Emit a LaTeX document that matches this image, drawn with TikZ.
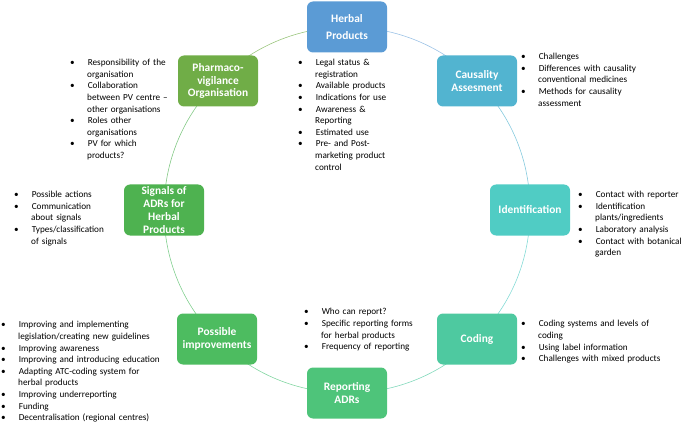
\documentclass[tikz,border=0pt]{standalone}
\usepackage{fontspec}
\setmainfont{Carlito}
\usepackage{xcolor}
\usepackage{enumitem}
\usepackage{tikz}
\usetikzlibrary{backgrounds}
\definecolor{herbal-blue}{RGB}{91,155,213}
\definecolor{causality-blue}{RGB}{82,180,208}
\definecolor{ident-teal}{RGB}{80,204,196}
\definecolor{coding-teal}{RGB}{78,201,160}
\definecolor{reporting-green}{RGB}{78,196,122}
\definecolor{improve-green}{RGB}{77,188,96}
\definecolor{signals-green}{RGB}{78,178,80}
\definecolor{pharma-green}{RGB}{112,173,71}
\setlist[itemize]{label=\textbullet, leftmargin=17pt, labelwidth=4pt, labelsep=13pt, align=left, nosep}
\tikzset{
    topic/.style={rectangle, rounded corners=6pt, minimum width=80pt, minimum height=51pt, inner sep=2pt, text=white, align=center, font=\bfseries\fontsize{11.4}{12.7}\selectfont},
    items/.style={anchor=north west, inner sep=0pt, text width=200pt, font=\fontsize{9.2}{11.6}\selectfont},
    ring/.style={line width=0.6pt, bend left=22.5, looseness=0.9}
}

\begin{document}
\begin{tikzpicture}[x=1pt, y=-1pt]
    \useasboundingbox (0,0) rectangle (685,422);

    \node[topic, fill=herbal-blue, font=\bfseries\fontsize{11.4}{17}\selectfont] (herbal) at (347,27) {Herbal\\Products};
    \node[topic, fill=causality-blue] (causality) at (477,81) {Causality\\Assesment};
    \node[topic, fill=ident-teal] (ident) at (530,210) {Identification};
    \node[topic, fill=coding-teal] (coding) at (477,339) {Coding};
    \node[topic, fill=reporting-green] (reporting) at (347,393) {Reporting\\ADRs};
    \node[topic, fill=improve-green] (improve) at (217,339) {Possible\\improvements};
    \node[topic, fill=signals-green] (signals) at (164,210) {Signals of\\ADRs for\\Herbal\\Products};
    \node[topic, fill=pharma-green] (pharma) at (218,81) {Pharmaco-\\vigilance\\Organisation};

    \begin{scope}[on background layer]
        \draw[ring, herbal-blue!60] (herbal.center) to (causality.center);
        \draw[ring, causality-blue!70] (causality.center) to (ident.center);
        \draw[ring, ident-teal!70] (ident.center) to (coding.center);
        \draw[ring, coding-teal!70] (coding.center) to (reporting.center);
        \draw[ring, reporting-green!70] (reporting.center) to (improve.center);
        \draw[ring, improve-green!70] (improve.center) to (signals.center);
        \draw[ring, signals-green!70] (signals.center) to (pharma.center);
        \draw[ring, pharma-green!70] (pharma.center) to (herbal.center);
    \end{scope}

    \node[items] (pharma-list) at (70,54) {\begin{itemize}
        \item Responsibility of the\newline organisation
        \item Collaboration\newline between PV centre --\newline other organisations
        \item Roles other\newline organisations
        \item PV for which\newline products?
    \end{itemize}};
    \node[items] (herbal-list) at (298,54) {\begin{itemize}
        \item Legal status \&\newline registration
        \item Available products
        \item Indications for use
        \item Awareness \&\newline Reporting
        \item Estimated use
        \item Pre- and Post-\newline marketing product\newline control
    \end{itemize}};
    \node[items] (causality-list) at (521,48) {\begin{itemize}
        \item Challenges
        \item Differences with causality\newline conventional medicines
        \item Methods for causality\newline assessment
    \end{itemize}};
    \node[items] (ident-list) at (578,186) {\begin{itemize}
        \item Contact with reporter
        \item Identification\newline plants/ingredients
        \item Laboratory analysis
        \item Contact with botanical\newline garden
    \end{itemize}};
    \node[items] (signals-list) at (14,186) {\begin{itemize}
        \item Possible actions
        \item Communication\newline about signals
        \item Types/classification\newline of signals
    \end{itemize}};
    \node[items] (improve-list) at (1,316) {\begin{itemize}
        \item Improving and implementing\newline legislation/creating new guidelines
        \item Improving awareness
        \item Improving and introducing education
        \item Adapting ATC-coding system for\newline herbal products
        \item Improving underreporting
        \item Funding
        \item Decentralisation (regional centres)
    \end{itemize}};
    \node[items] (reporting-list) at (304,303) {\begin{itemize}
        \item Who can report?
        \item Specific reporting forms\newline for herbal products
        \item Frequency of reporting
    \end{itemize}};
    \node[items] (coding-list) at (521,315) {\begin{itemize}
        \item Coding systems and levels of\newline coding
        \item Using label information
        \item Challenges with mixed products
    \end{itemize}};
\end{tikzpicture}
\end{document}
